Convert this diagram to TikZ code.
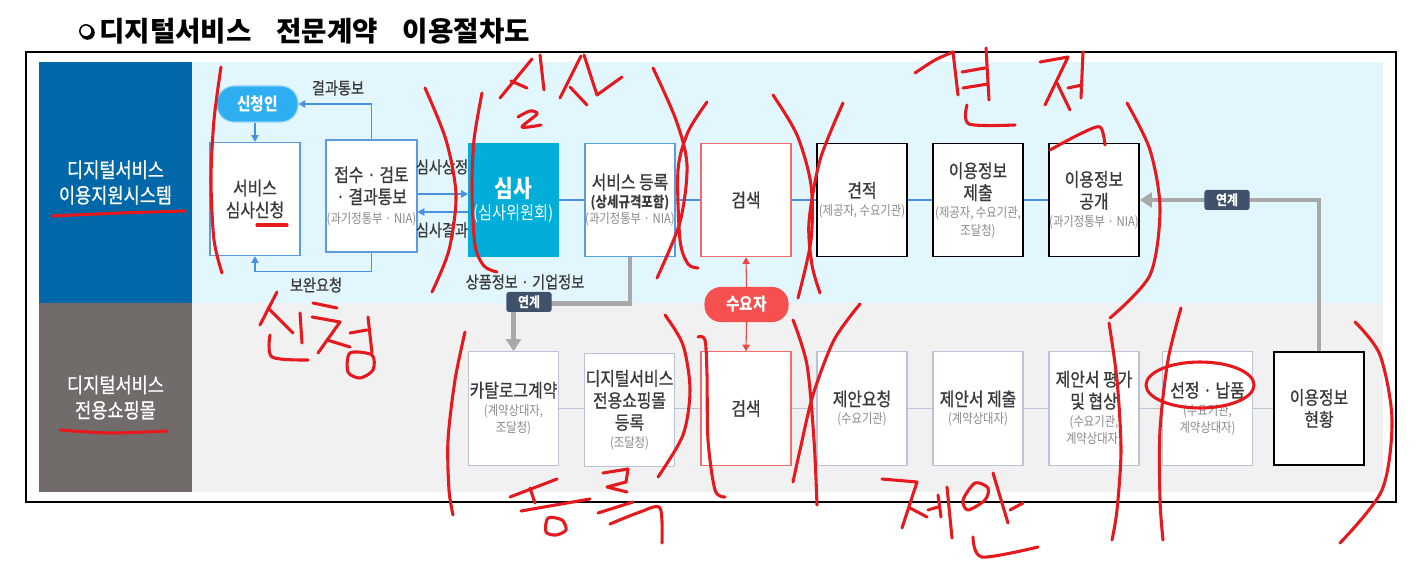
\documentclass[tikz,border=0pt]{standalone}
\usepackage{fontspec}
\setmainfont{Noto Sans CJK KR}[FakeStretch=0.85]
\newfontfamily\medfont{Noto Sans CJK KR}[FakeStretch=0.85,FakeBold=0.8]
\newfontfamily\titlefont{Noto Sans CJK KR}
\usetikzlibrary{arrows.meta,calc}
\definecolor{handred}{HTML}{E5191E}
\definecolor{sideblue}{HTML}{0067A8}
\definecolor{sidegray}{HTML}{716B6A}
\definecolor{bgcyan}{HTML}{E2F7FD}
\definecolor{bggray}{HTML}{F1F1F1}
\definecolor{boxblue}{HTML}{5A9BE2}
\definecolor{arrblue}{HTML}{4A90E2}
\definecolor{boxgray}{HTML}{B9C5D6}
\definecolor{boxred}{HTML}{F26B6B}
\definecolor{arrred}{HTML}{F04545}
\definecolor{pillred}{HTML}{F5504F}
\definecolor{simcyan}{HTML}{00AED9}
\definecolor{pillblue}{HTML}{2DAEF0}
\definecolor{pillblueb}{HTML}{8ED4F8}
\definecolor{tagslate}{HTML}{3F516B}
\definecolor{thickgray}{HTML}{A8A8A8}
\definecolor{txtdark}{HTML}{3A3A3A}
\definecolor{subgray}{HTML}{8A8A8A}
\newcommand\mtxt{\medfont\fontsize{14}{16.5}\selectfont}
\newcommand\stxt{\normalfont\fontsize{10}{12}\selectfont\color{subgray}}
\newcommand\lbltxt{\medfont\fontsize{12.5}{14}\selectfont}
\newcommand\sidetxt{\medfont\fontsize{15.5}{19}\selectfont}
\newcommand\tagtxt{\fontsize{10.5}{12}\selectfont}
\begin{document}
\begin{tikzpicture}[x=0.75pt,y=-0.75pt,
  hand/.style={draw=handred,line width=2.3pt,line cap=round,line join=round},
  bluebox/.style={draw=boxblue,line width=0.9pt,fill=white,minimum width=67.5pt,minimum height=85pt,inner sep=0pt,align=center,text=txtdark,font=\mtxt},
  blackbox/.style={bluebox,draw=black,line width=1.1pt},
  graybox/.style={bluebox,draw=boxgray},
  redbox/.style={bluebox,draw=boxred},
  barrow/.style={draw=arrblue,line width=0.8pt,-{Triangle[width=5.5pt,length=5pt]}},
  bline/.style={draw=arrblue,line width=0.8pt},
  gline/.style={draw=boxgray,line width=0.8pt},
  garrow/.style={draw=thickgray,line width=3.6pt,-{Triangle[width=11pt,length=9pt]}},
  rarrow/.style={draw=arrred,line width=0.8pt,-{Triangle[width=5.5pt,length=5pt]}},
  linktag/.style={fill=tagslate,rounded corners=2pt,text=white,font=\tagtxt\bfseries,minimum width=34pt,minimum height=15pt,inner sep=1pt},
  lbl/.style={font=\lbltxt,text=txtdark,inner sep=0pt},
  panel/.style={minimum width=114.75pt,inner sep=0pt,align=center,text=white,font=\sidetxt},
  pill/.style={text=white,font=\fontsize{13}{15}\selectfont\bfseries,inner sep=0pt,line width=0.8pt}
]
\useasboundingbox (0,0) rectangle (1419,566);
\fill[white] (0,0) rectangle (1419,566);
% title
\fill (87.6,32.6) circle (7.2);
\fill[white] (86,31) circle (5.4);
\draw[line width=1.1pt] (86,31) circle (6.2);
\node[anchor=west,inner sep=0pt,font=\titlefont\bfseries\fontsize{20.7}{24}\selectfont] (title) at (99,31) {디지털서비스\hspace{0.9em}전문계약\hspace{0.9em}이용절차도};
% frame and backgrounds
\fill[bgcyan] (192,62) rectangle (1383,303);
\fill[bggray] (192,303) rectangle (1383,492);
\node[panel,fill=sideblue,minimum height=180.75pt] (sideA) at (115.5,182.5) {디지털서비스\\이용지원시스템};
\node[panel,fill=sidegray,minimum height=141.75pt] (sideB) at (115.5,397.5) {디지털서비스\\전용쇼핑몰};
\draw[line width=1.6pt] (26,52) rectangle (1396,502);
% top row
\node[bluebox] (b1) at (255,199) {서비스\\심사신청};
\node[bluebox,minimum height=84pt,minimum width=68.25pt] (b2) at (371.5,196) {접수 · 검토\\· 결과통보\\[-2pt]{\stxt (과기정통부 · NIA)}};
\node[bluebox,fill=simcyan,draw=simcyan,text=white] (sim) at (513.5,200) {{\normalfont\fontsize{18}{20}\selectfont\bfseries 심사}\\{\normalfont\fontsize{13.5}{15}\selectfont (심사위원회)}};
\node[bluebox] (reg) at (630,200) {서비스 등록\\[-3pt]{\normalfont\fontsize{11}{12}\selectfont\bfseries (상세규격포함)}\\[-4pt]{\stxt (과기정통부 · NIA)}};
\node[redbox] (srch1) at (746,200) {검색};
\node[blackbox] (est) at (862,200) {견적\\[-3pt]{\stxt (제공자, 수요기관)}};
\node[blackbox] (sub) at (978,200) {이용정보\\제출\\[-3pt]{\stxt (제공자, 수요기관,}\\[-3.5pt]{\stxt 조달청)}};
\node[blackbox] (pub) at (1094,200) {이용정보\\공개\\[-3pt]{\stxt (과기정통부 · NIA)}};
\node[pill,fill=pillblue,draw=pillblueb,rounded corners=13pt,minimum width=60.75pt,minimum height=27pt] (app) at (257.5,104) {신청인};
% bottom row
\node[graybox] (cat) at (513.5,408.5) {카탈로그계약\\[-3pt]{\stxt (계약상대자,}\\[-3.5pt]{\stxt 조달청)}};
\node[graybox] (mall) at (629.5,410) {디지털서비스\\전용쇼핑몰\\등록\\[-3pt]{\stxt (조달청)}};
\node[redbox] (srch2) at (746,408.5) {검색};
\node[graybox] (req) at (862,408.5) {제안요청\\[-3pt]{\stxt (수요기관)}};
\node[graybox] (prop) at (978,408.5) {제안서 제출\\[-3pt]{\stxt (계약상대자)}};
\node[graybox] (eval) at (1094,408.5) {제안서 평가\\및 협상\\[-3pt]{\stxt (수요기관,}\\[-3.5pt]{\stxt 계약상대자)}};
\node[graybox] (sel) at (1207.5,408.5) {선정 · 납품\\[-3pt]{\stxt (수요기관,}\\[-3.5pt]{\stxt 계약상대자)}};
\node[blackbox] (stat) at (1319,408.5) {이용정보\\현황};
\node[pill,fill=pillred,draw=pillred,rounded corners=12pt,minimum width=62.25pt,minimum height=25.5pt] (buyer) at (746.5,304.5) {수요자};
% connectors top
\draw[barrow] (app.south -| b1.north) -- (b1.north);
\draw[barrow] (b2.north) |- (app.east);
\draw[barrow] (b2.south) -- ++(0,19) -| (b1.south);
\draw[barrow] ([yshift=4.5pt]sim.west -| b2.east) -- ([yshift=4.5pt]sim.west);
\draw[barrow] ([yshift=-9pt]sim.west) -- ([yshift=-9pt]sim.west -| b2.east);
\draw[bline] (sim.east) -- (reg.west);
\draw[bline] (reg.east) -- (srch1.west);
\draw[bline] (srch1.east) -- (est.west);
\draw[bline] (est.east) -- (sub.west);
\draw[bline] (sub.east) -- (pub.west);
% connectors bottom
\draw[gline] (cat.east) -- (mall.west |- cat.east);
\draw[gline] (mall.east |- cat.east) -- (srch2.west);
\draw[gline] (srch2.east) -- (req.west);
\draw[gline] (req.east) -- (prop.west);
\draw[gline] (prop.east) -- (eval.west);
\draw[gline] (eval.east) -- (sel.west);
\draw[gline] (sel.east) -- (stat.west);
% red arrows
\draw[rarrow] (buyer.north) -- (srch1.south);
\draw[rarrow] (buyer.south) -- (srch2.north);
% thick gray links
\draw[garrow] (reg.south) -- ++(0,46) -| (cat.north);
\draw[garrow] (stat.north) |- (pub.east);
\node[linktag] (tag1) at (529,302) {연계};
\node[linktag] (tag2) at (1227,200) {연계};
% labels
\node[lbl] (l1) at (338,88) {결과통보};
\node[lbl] (l2) at (316,285) {보완요청};
\node[lbl] (l3) at (442,167) {심사상정};
\node[lbl] (l4) at (442,230) {심사결과};
\node[lbl] (l5) at (525,282) {상품정보 · 기업정보};
% ---- red handwritten annotations ----
% brackets top
\draw[hand] plot[smooth] coordinates {(221,67) (214,120) (211,180) (214,240) (222,273)};
\draw[hand] plot[smooth] coordinates {(425,88) (446,140) (456,195) (449,250) (432,292)};
\draw[hand] plot[smooth] coordinates {(482,93) (474,140) (472,190) (475,245) (484,266) (497,272)};
\draw[hand] plot[smooth] coordinates {(653,68) (676,120) (687,165) (680,222) (657,278)};
\draw[hand] plot[smooth] coordinates {(707,102) (688,132) (678,170) (680,240) (688,264) (698,268)};
\draw[hand] plot[smooth] coordinates {(773,95) (797,135) (811,185) (811,240) (798,298)};
\draw[hand] plot[smooth] coordinates {(843,103) (820,160) (809,222) (812,265) (820,293)};
\draw[hand] plot[smooth] coordinates {(1127,103) (1150,150) (1160,209) (1150,275) (1110,318)};
% brackets bottom
\draw[hand] plot[smooth] coordinates {(465,332) (455,380) (448,440) (449,490) (453,515)};
\draw[hand] plot[smooth] coordinates {(665,315) (683,345) (690,390) (683,435) (658,477)};
\draw[hand] plot[smooth] coordinates {(698,337) (705,340) (707,375) (708,440) (715,490) (725,497)};
\draw[hand] plot[smooth] coordinates {(793,320) (807,365) (814,440) (817,505)};
\draw[hand] plot[smooth] coordinates {(860,304) (834,340) (813,395) (800,450) (793,482)};
\draw[hand] plot[smooth] coordinates {(1109,323) (1117,380) (1121,450) (1117,510) (1112,540)};
\draw[hand] plot[smooth] coordinates {(1181,308) (1168,360) (1160,430) (1160,500) (1163,540)};
\draw[hand] (1200,385) ellipse [x radius=54, y radius=23];
\draw[hand] plot[smooth] coordinates {(1355,322) (1380,355) (1392,420) (1382,490) (1340,543)};
% underlines
\draw[hand] plot[smooth] coordinates {(52,216) (120,213) (185,211)};
\draw[hand] plot[smooth] coordinates {(60,430) (110,433) (167,431)};
\draw[hand] (257,225) -- (287,225);
% handwriting: 심사
\draw[hand] (500,98) -- (532,59);
\draw[hand] (511,81) -- (527,88);
\draw[hand] (540,55) -- (544,90);
\draw[hand] plot[smooth] coordinates {(518,117) (530,111) (537,114) (522,127) (541,125)};
\draw[hand] (560,98) -- (581,56);
\draw[hand] (570,87) -- (587,105);
\draw[hand] (584,55) -- (597,95) -- (622,77);
% handwriting: 견적
\draw[hand] plot[smooth] coordinates {(915,73) (935,60) (953,52)};
\draw[hand] (953,52) -- (958,95);
\draw[hand] (962,72) -- (985,68);
\draw[hand] (963,88) -- (988,84);
\draw[hand] (986,48) -- (989,100);
\draw[hand] plot[smooth] coordinates {(967,105) (969,124) (1015,125)};
\draw[hand] (1040,62) -- (1068,57) -- (1045,105);
\draw[hand] (1057,83) -- (1070,110);
\draw[hand] (1068,88) -- (1082,85);
\draw[hand] (1083,52) -- (1081,98);
\draw[hand] plot[smooth] coordinates {(1050,150) (1080,134) (1100,127) (1105,145)};
% handwriting: 신청
\draw[hand] (277,292) -- (260,325);
\draw[hand] (268,308) -- (293,333);
\draw[hand] (300,313) -- (302,343);
\draw[hand] plot[smooth] coordinates {(270,335) (272,357) (308,360)};
\draw[hand] (313,303) -- (337,308);
\draw[hand] (312,317) -- (340,322) -- (318,353);
\draw[hand] (327,340) -- (350,347);
\draw[hand] (350,333) -- (367,330);
\draw[hand] (368,317) -- (372,353);
\draw[hand] plot[smooth cycle] coordinates {(350,353) (348,372) (360,378) (373,370) (372,355)};
% handwriting: 등록
\draw[hand] (510,497) -- (557,479);
\draw[hand] (530,488) -- (535,503);
\draw[hand] (521,511) -- (590,499);
\draw[hand] plot[smooth cycle] coordinates {(548,518) (546,532) (556,535) (566,530) (562,520)};
\draw[hand] (603,473) -- (628,469) -- (626,482) -- (607,487) -- (627,492);
\draw[hand] (598,513) -- (633,502);
\draw[hand] plot[smooth] coordinates {(610,524) (640,512) (660,508) (662,543)};
% handwriting: 제안
\draw[hand] (882,479) -- (917,482) -- (902,528);
\draw[hand] (910,508) -- (927,517);
\draw[hand] (928,510) -- (938,507);
\draw[hand] (938,495) -- (941,517);
\draw[hand] (947,487) -- (952,538);
\draw[hand] plot[smooth cycle] coordinates {(975,483) (963,500) (968,510) (985,500) (988,488)};
\draw[hand] (993,473) -- (1008,523);
\draw[hand] (1010,510) -- (1023,503);
\draw[hand] plot[smooth] coordinates {(973,537) (982,557) (1038,547)};
\end{tikzpicture}
\end{document}
